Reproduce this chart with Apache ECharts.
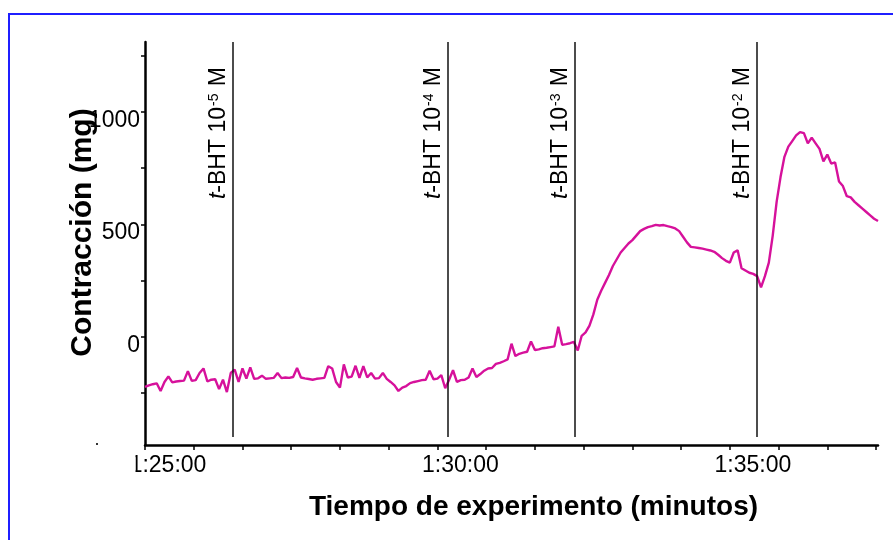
<!DOCTYPE html>
<html>
<head>
<meta charset="utf-8">
<script src="https://cdn.jsdelivr.net/npm/echarts@6/dist/echarts.min.js"></script>
<style>
  html, body { margin: 0; padding: 0; background: #fff; }
  #chart { width: 893px; height: 540px; }
</style>
</head>
<body>
<div id="chart"></div>
<script>
// tiempo en segundos (1:25:00 = 5100 s), una lectura cada 4 s
const startTime = 5100;
const sampleStep = 4;

const contraction = [
  -222, -215, -210, -206, -240, -200, -175, -202, -198, -196,
  -194, -152, -195, -192, -160, -140, -198, -190, -188, -232,
  -190, -245, -160, -145, -200, -140, -185, -135, -186, -184,
  -172, -186, -184, -182, -160, -183, -180, -182, -178, -138,
  -180, -184, -187, -190, -186, -184, -182, -130, -140, -200,
  -225, -122, -180, -176, -128, -182, -130, -180, -160, -185,
  -183, -160, -186, -200, -215, -240, -225, -218, -205, -200,
  -196, -192, -190, -150, -188, -185, -170, -228, -190, -148,
  -200, -192, -190, -180, -140, -178, -165, -150, -140, -138,
  -120, -115, -108, -100, -30, -85, -75, -70, -66, -20,
  -58, -55, -50, -48, -45, -42, 45, -35, -32, -28,
  -22, -60, 5, 20, 50, 100, 165, 205, 240, 275,
  315, 345, 375, 395, 415, 430, 450, 470, 480, 488,
  492, 498, 495, 497, 492, 488, 482, 470, 445, 420,
  400, 398, 395, 392, 388, 384, 378, 365, 350, 338,
  330, 375, 385, 305, 295, 285, 280, 270, 220, 270,
  330, 450, 600, 710, 800, 845, 870, 895, 910, 905,
  860, 885, 860, 835, 780, 810, 770, 775, 690, 670,
  625, 620, 600, 585, 570, 555, 540, 525, 515
];

// adiciones de t-BHT (s) y exponente de la concentración
const markerTimes = [5190, 5411, 5541, 5728];
const markerExps = ['-5', '-4', '-3', '-2'];

// ejes
const xMin = 5100, xMax = 5852;
const xTicks = [5100, 5150, 5200, 5250, 5300, 5350, 5400, 5450, 5500, 5550, 5600, 5650, 5700, 5750, 5800, 5850];
const xLabels = [5100, 5400, 5700];
const yMin = -480, yMax = 1310;
const yTicks = [-250, 0, 250, 500, 750, 1000, 1250];
const yLabels = [0, 500, 1000];
const markerBottom = -445;

const seriesData = contraction.map((v, i) => [startTime + i * sampleStep, v]);

function fmtTime(s) {
  const h = Math.floor(s / 3600);
  const m = Math.floor((s % 3600) / 60);
  const sec = Math.round(s % 60);
  return h + ':' + String(m).padStart(2, '0') + ':' + String(sec).padStart(2, '0');
}

const font = "'Liberation Sans', Arial, sans-serif";

const chart = echarts.init(document.getElementById('chart'), null, { renderer: 'canvas' });

chart.setOption({
  animation: false,
  backgroundColor: '#fff',
  textStyle: { fontFamily: font },
  grid: { left: 145, right: 15, top: 42, bottom: 95, outerBoundsMode: 'none' },
  xAxis: {
    type: 'value',
    min: xMin,
    max: xMax,
    name: 'Tiempo de experimento (minutos)',
    nameLocation: 'middle',
    nameGap: 48,
    nameTextStyle: { fontSize: 28, fontWeight: 'bold', color: '#000', fontFamily: font, padding: [0, 0, 0, 44] },
    axisLine: { show: true, onZero: false, lineStyle: { color: '#000', width: 2.5 } },
    axisTick: { show: true, length: 5, lineStyle: { color: '#000', width: 1.5 }, customValues: xTicks },
    axisLabel: {
      customValues: xLabels,
      formatter: fmtTime,
      fontSize: 23,
      color: '#000',
      fontFamily: font,
      margin: 9,
      padding: [0, 0, 0, 46]
    },
    splitLine: { show: false }
  },
  yAxis: {
    type: 'value',
    min: yMin,
    max: yMax,
    name: 'Contracción (mg)',
    nameLocation: 'middle',
    nameGap: 47,
    nameMoveOverlap: false,
    nameTextStyle: { fontSize: 30, fontWeight: 'bold', color: '#000', fontFamily: font, padding: [0, 0, 0, 22] },
    axisLine: { show: true, onZero: false, lineStyle: { color: '#000', width: 2.5 } },
    axisTick: { show: true, length: 4, lineStyle: { color: '#000', width: 1.5 }, customValues: yTicks },
    axisLabel: {
      customValues: yLabels,
      formatter: v => String(v),
      fontSize: 23,
      color: '#000',
      fontFamily: font,
      margin: 5,
      verticalAlign: 'top',
      lineHeight: 17
    },
    splitLine: { show: false }
  },
  series: [{
    type: 'line',
    data: seriesData,
    showSymbol: false,
    symbol: 'none',
    lineStyle: { color: '#d6119b', width: 2.4 },
    silent: true,
    markLine: {
      silent: true,
      symbol: ['none', 'none'],
      lineStyle: { color: '#111', width: 1.5, type: 'solid' },
      label: {
        show: true,
        position: 'insideEndTop',
        distance: [25, 3],
        color: '#000',
        fontFamily: font,
        formatter: p => '{i|t}{n|-BHT 10}{s|' + p.name + '}{n| M}',
        rich: {
          i: { fontSize: 23, fontStyle: 'italic', fontFamily: font, color: '#000' },
          n: { fontSize: 23, fontFamily: font, color: '#000' },
          s: { fontSize: 14, fontFamily: font, color: '#000', verticalAlign: 'top', padding: [0, 1, 8, 1] }
        }
      },
      data: markerTimes.map((t, k) => [
        { name: markerExps[k], coord: [t, markerBottom] },
        { coord: [t, yMax] }
      ])
    }
  }],
  graphic: [
    {
      type: 'rect',
      silent: true,
      z: 100,
      shape: { x: 9, y: 14, width: 900, height: 600 },
      style: { fill: 'none', stroke: '#1f1fff', lineWidth: 2 }
    },
    {
      type: 'rect',
      silent: true,
      z: 100,
      shape: { x: 112, y: 452, width: 23.5, height: 30 },
      style: { fill: '#fff' }
    },
    {
      type: 'rect',
      silent: true,
      z: 100,
      shape: { x: 96, y: 443, width: 2, height: 2 },
      style: { fill: '#333' }
    }
  ]
});
</script>
</body>
</html>
